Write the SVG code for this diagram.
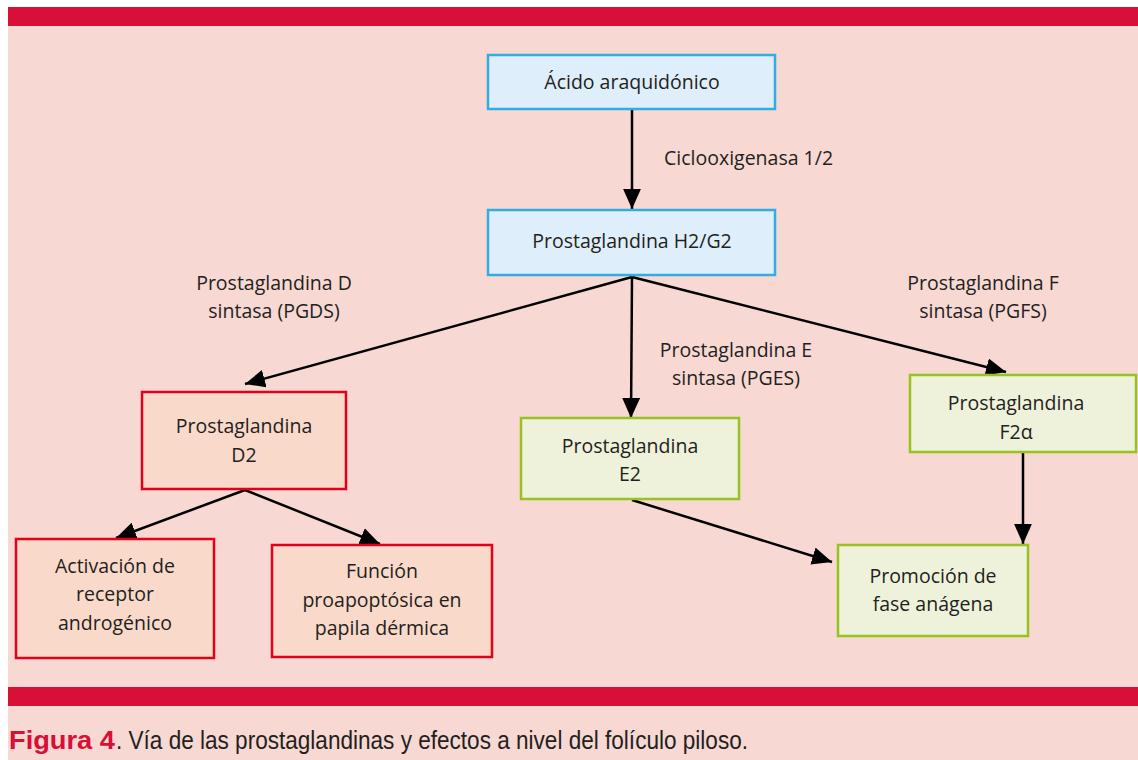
<svg xmlns="http://www.w3.org/2000/svg" width="1138" height="760" viewBox="0 0 1138 760">
<style>
.t{font-family:"Open Sans","Noto Sans",sans-serif;font-size:19.5px;fill:#231f20;text-anchor:middle}
.bl{fill:#DEEEFA;stroke:#33ACE3;stroke-width:2.5}
.rd{fill:#F9D9C9;stroke:#E2001A;stroke-width:2.5}
.gr{fill:#EEF2DB;stroke:#97C21F;stroke-width:2.5}
.c{stroke:#000;stroke-width:2.5;fill:none;marker-end:url(#ah)}
.cap{font-family:"Liberation Sans",Arial,sans-serif;font-size:25px}
</style>
<defs>
<marker id="ah" markerUnits="userSpaceOnUse" markerWidth="20" markerHeight="18" refX="18" refY="8" orient="auto" viewBox="0 0 18 16">
<path d="M0,0 L18,8 L0,16 z" fill="#000"/>
</marker>
</defs>
<rect x="0" y="0" width="1138" height="760" fill="#fff"/>
<rect x="8" y="26" width="1130" height="734" fill="#F7D8D3"/>
<rect x="8" y="7" width="1130" height="19" fill="#D80F36"/>
<rect x="8" y="687" width="1130" height="19" fill="#D80F36"/>

<g id="connectors">
<line class="c" x1="632" y1="110" x2="632" y2="209"/>
<line class="c" x1="632" y1="277" x2="245" y2="384"/>
<line class="c" x1="632" y1="277" x2="631" y2="418"/>
<line class="c" x1="632" y1="277" x2="1006" y2="372"/>
<line class="c" x1="245" y1="490" x2="116" y2="538"/>
<line class="c" x1="245" y1="490" x2="380" y2="544"/>
<line class="c" x1="632" y1="500" x2="832" y2="562"/>
<line class="c" x1="1023" y1="453" x2="1023" y2="544"/>
</g>

<g id="labels">
<text class="t" x="664" y="165" style="text-anchor:start">Ciclooxigenasa 1/2</text>
<text class="t" x="274" y="290">Prostaglandina D</text>
<text class="t" x="274" y="318">sintasa (PGDS)</text>
<text class="t" x="736" y="357">Prostaglandina E</text>
<text class="t" x="736" y="385">sintasa (PGES)</text>
<text class="t" x="983" y="290">Prostaglandina F</text>
<text class="t" x="983" y="318">sintasa (PGFS)</text>
</g>

<g id="n-acido">
<rect class="bl" x="488" y="55" width="287" height="54"/>
<text class="t" x="632" y="89">Ácido araquidónico</text>
</g>
<g id="n-h2g2">
<rect class="bl" x="488" y="210" width="287" height="65"/>
<text class="t" x="632" y="248">Prostaglandina H2/G2</text>
</g>
<g id="n-d2">
<rect class="rd" x="142" y="392" width="204" height="97"/>
<text class="t" x="244" y="433">Prostaglandina</text>
<text class="t" x="244" y="462">D2</text>
</g>
<g id="n-e2">
<rect class="gr" x="521" y="418" width="218" height="81"/>
<text class="t" x="630" y="453">Prostaglandina</text>
<text class="t" x="630" y="481">E2</text>
</g>
<g id="n-f2a">
<rect class="gr" x="910" y="375" width="226" height="77"/>
<text class="t" x="1016" y="410">Prostaglandina</text>
<text class="t" x="1016" y="439">F2α</text>
</g>
<g id="n-activacion">
<rect class="rd" x="16" y="539" width="198" height="119"/>
<text class="t" x="115" y="573">Activación de</text>
<text class="t" x="115" y="601">receptor</text>
<text class="t" x="115" y="630">androgénico</text>
</g>
<g id="n-funcion">
<rect class="rd" x="272" y="545" width="220" height="112"/>
<text class="t" x="382" y="578">Función</text>
<text class="t" x="382" y="607">proapoptósica en</text>
<text class="t" x="382" y="635">papila dérmica</text>
</g>
<g id="n-promocion">
<rect class="gr" x="838" y="545" width="190" height="91"/>
<text class="t" x="933" y="583">Promoción de</text>
<text class="t" x="933" y="611">fase anágena</text>
</g>

<text class="cap" x="9" y="749" fill="#D80F36" font-weight="bold" textLength="106" lengthAdjust="spacingAndGlyphs">Figura 4</text>
<text class="cap" x="116" y="749" fill="#231f20" textLength="632" lengthAdjust="spacingAndGlyphs">. Vía de las prostaglandinas y efectos a nivel del folículo piloso.</text>
</svg>
